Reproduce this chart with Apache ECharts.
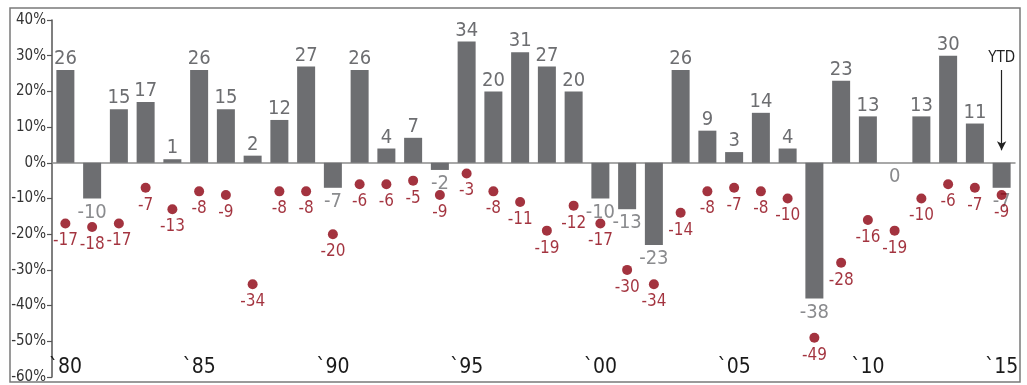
<!DOCTYPE html>
<html>
<head>
<meta charset="utf-8">
<script src="https://cdn.jsdelivr.net/npm/echarts@6/dist/echarts.min.js"></script>
<style>
  html, body { margin: 0; padding: 0; background: #fff; }
  #chart { width: 1027px; height: 385px; }
</style>
</head>
<body>
<div id="chart"></div>
<script>
// years 1980 - 2015
var years = ['1980', '1981', '1982', '1983', '1984', '1985', '1986', '1987', '1988', '1989',
  '1990', '1991', '1992', '1993', '1994', '1995', '1996', '1997', '1998', '1999',
  '2000', '2001', '2002', '2003', '2004', '2005', '2006', '2007', '2008', '2009',
  '2010', '2011', '2012', '2013', '2014', '2015']

// calendar year return (bars)
var annualReturns = [26, -10, 15, 17, 1, 26, 15, 2, 12, 27,
  -7, 26, 4, 7, -2, 34, 20, 31, 27, 20,
  -10, -13, -23, 26, 9, 3, 14, 4, -38, 23,
  13, 0, 13, 30, 11, -7]

// intra-year decline (dots)
var intraYearDrops = [-17, -18, -17, -7, -13, -8, -9, -34, -8, -8,
  -20, -6, -6, -5, -9, -3, -8, -11, -19, -12,
  -17, -30, -34, -14, -8, -7, -8, -10, -49, -28,
  -16, -19, -10, -6, -7, -9]

var yTicks = [-60, -50, -40, -30, -20, -10, 0, 10, 20, 30, 40]

var FONT = '"DejaVu Sans Condensed", "Liberation Sans Narrow", sans-serif'
var barColor = '#6d6e71'
var red = '#8c000f'

var barData = annualReturns.map(function (v) {
  return {
    value: v,
    label: {
      position: v > 0 ? 'top' : 'bottom',
      distance: v > 0 ? 1 : 4,
      color: v > 0 ? '#6d6e71' : '#8a8b8e'
    }
  }
})

var chart = echarts.init(document.getElementById('chart'))

var option = {
  animation: false,
  backgroundColor: '#fff',
  grid: {
    left: 52,
    right: 12,
    top: 20,
    bottom: 8,
    containLabel: false
  },
  xAxis: [
    {
      type: 'category',
      data: years,
      axisLine: { show: true, onZero: true, lineStyle: { color: '#8c8c8c', width: 1.5 } },
      axisTick: { show: false },
      axisLabel: { show: false },
      splitLine: { show: false }
    },
    {
      type: 'category',
      data: years,
      position: 'bottom',
      axisLine: { show: false },
      axisTick: { show: false },
      splitLine: { show: false },
      axisLabel: {
        inside: true,
        margin: -1,
        interval: 0,
        fontFamily: FONT,
        fontSize: 21,
        color: '#1a1a1a',
        formatter: function (v) {
          return Number(v) % 5 === 0 ? '`' + v.slice(2) : ''
        }
      }
    }
  ],
  yAxis: {
    type: 'value',
    min: yTicks[0],
    max: yTicks[yTicks.length - 1],
    interval: 10,
    axisLine: { show: true, lineStyle: { color: '#555', width: 1.5 } },
    axisTick: { show: true, length: 5, lineStyle: { color: '#555', width: 1.2 } },
    splitLine: { show: false },
    axisLabel: {
      margin: 6,
      fontFamily: FONT,
      fontSize: 15,
      color: '#333',
      formatter: '{value}%'
    }
  },
  series: [
    {
      name: 'Annual return',
      type: 'bar',
      xAxisIndex: 0,
      data: barData,
      barWidth: 18,
      itemStyle: { color: barColor },
      label: {
        show: true,
        fontFamily: FONT,
        fontSize: 20
      },
      markLine: {
        silent: true,
        symbol: ['none', 'arrow'],
        symbolSize: [7, 9],
        lineStyle: { color: '#222', width: 1.2, type: 'solid' },
        label: {
          show: true,
          position: 'start',
          formatter: 'YTD',
          fontFamily: FONT,
          fontSize: 15,
          color: '#222',
          distance: 4
        },
        data: [
          [
            { coord: ['2015', 26] },
            { coord: ['2015', 3.5] }
          ]
        ]
      }
    },
    {
      name: 'Intra-year decline',
      type: 'scatter',
      xAxisIndex: 0,
      data: intraYearDrops,
      symbol: 'circle',
      symbolSize: 10,
      itemStyle: { color: red },
      label: {
        show: true,
        position: 'bottom',
        distance: 4,
        fontFamily: FONT,
        fontSize: 17,
        color: red
      },
      z: 3
    }
  ],
  graphic: [
    {
      type: 'rect',
      shape: { x: 10, y: 8, width: 1010, height: 374 },
      style: { fill: 'none', stroke: '#7a7a7a', lineWidth: 1.5 },
      silent: true
    }
  ]
}

chart.setOption(option)
</script>
</body>
</html>
